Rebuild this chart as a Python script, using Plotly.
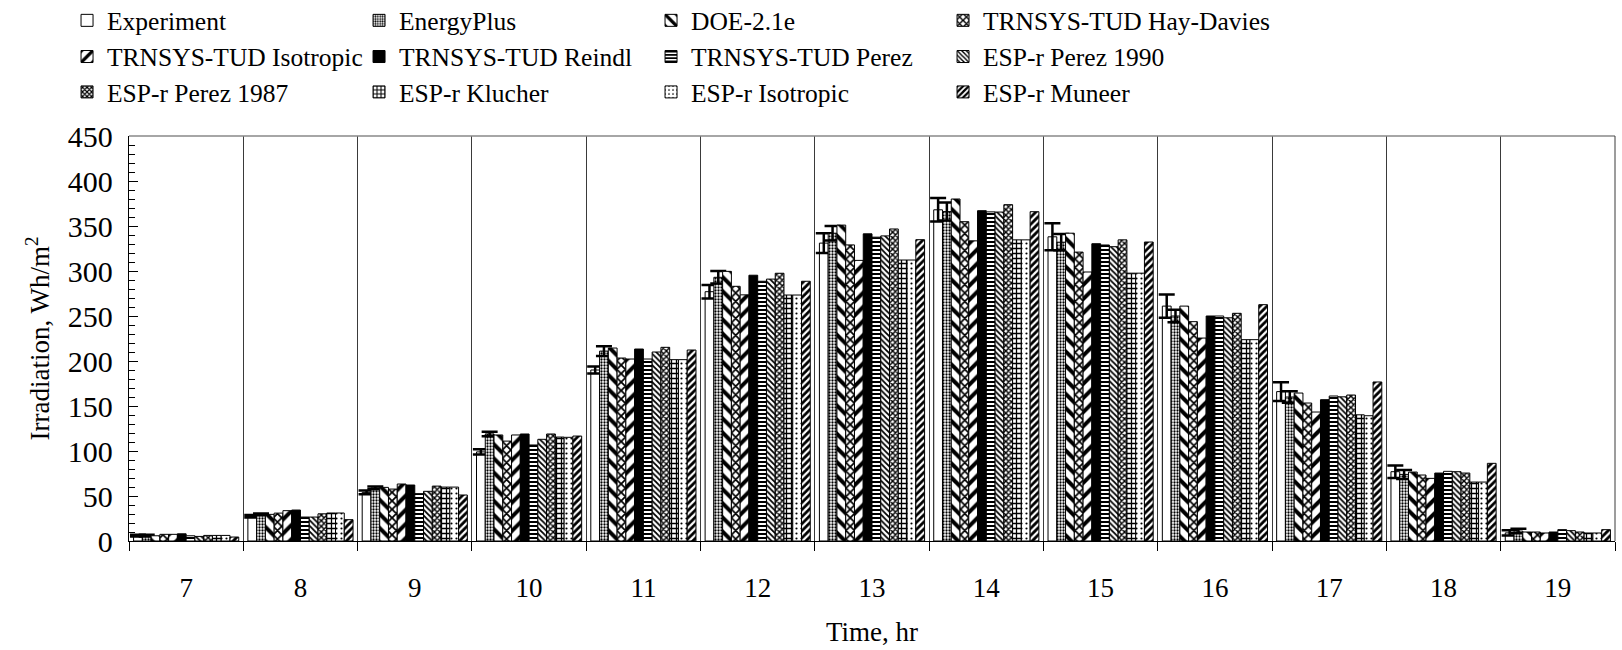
import plotly.graph_objects as go

hours = ["7", "8", "9", "10", "11", "12", "13", "14", "15", "16", "17", "18", "19"]

experiment = [6, 27.5, 54, 99, 190, 277, 331, 368, 338, 261, 166, 77, 9]
experiment_err = [1, 1.5, 2, 3, 4, 7.5, 11, 13, 15, 13, 10.5, 7, 3]
energyplus = [6, 29.5, 59, 119, 211, 293, 342, 366, 332, 250, 160, 74, 11]
energyplus_err = [1, 1, 1.5, 2.5, 5.5, 7, 8, 10, 9, 7, 6.5, 5, 2.5]
doe21e = [5.8, 29.6, 59.6, 117.8, 214.4, 299.6, 351, 380, 342, 261, 164.4, 76.6, 10]
trnsys_hay_davies = [7.4, 31, 57.7, 111, 203.3, 283, 329, 354.8, 321, 243.7, 153.3, 73.3, 10]
trnsys_isotropic = [7.4, 33.7, 63.3, 117.8, 202.2, 273.5, 311.8, 333.5, 298.9, 225.5, 143.3, 69.6, 8.9]
trnsys_reindl = [8, 34.4, 62.2, 118.9, 213.3, 295.3, 341.3, 367, 330.3, 250, 157, 75.5, 10]
trnsys_perez = [5.8, 26.6, 52.6, 106.7, 202.2, 288.6, 337.6, 365.7, 328.9, 250, 161.1, 77.4, 12.6]
espr_perez_1990 = [5.1, 26.6, 55.2, 113, 210, 291, 339, 365.5, 327, 248, 160.2, 77, 11.5]
espr_perez_1987 = [6.2, 30.2, 61, 118.9, 215.2, 297.5, 346.7, 373.7, 334.6, 253, 162.2, 75.5, 10]
espr_klucher = [6.2, 31.1, 59.9, 115.5, 201.5, 273.3, 312.2, 334.6, 297.6, 223.7, 140.2, 65.5, 8.9]
espr_isotropic = [6.2, 31.1, 59.9, 115.2, 201.5, 273.3, 312.2, 334.6, 297.6, 223.7, 139.2, 65.5, 8.9]
espr_muneer = [4.4, 23.7, 51.1, 116.6, 212.2, 288.6, 334.8, 365.9, 332.2, 262.6, 176.7, 86.3, 12.6]

FONT = "Liberation Serif, Times New Roman, serif"

# (name, values, errors, fill pattern, solid color, legend row)
series = [
    ("Experiment", experiment, experiment_err, None, "white", "legend"),
    ("EnergyPlus", energyplus, energyplus_err, dict(shape=".", size=3, solidity=0.45), None, "legend"),
    ("DOE-2.1e", doe21e, None, dict(shape="\\", size=10, solidity=0.4), None, "legend"),
    ("TRNSYS-TUD Hay-Davies", trnsys_hay_davies, None, dict(shape="x", size=6, solidity=0.5), None, "legend"),
    ("TRNSYS-TUD Isotropic", trnsys_isotropic, None, dict(shape="/", size=10, solidity=0.4), None, "legend2"),
    ("TRNSYS-TUD Reindl", trnsys_reindl, None, None, "black", "legend2"),
    ("TRNSYS-TUD Perez", trnsys_perez, None, dict(shape="-", size=4, solidity=0.5), None, "legend2"),
    ("ESP-r Perez 1990", espr_perez_1990, None, dict(shape="\\", size=4, solidity=0.45), None, "legend2"),
    ("ESP-r Perez 1987", espr_perez_1987, None, dict(shape="x", size=4, solidity=0.6), None, "legend3"),
    ("ESP-r Klucher", espr_klucher, None, dict(shape="+", size=5, solidity=0.45), None, "legend3"),
    ("ESP-r Isotropic", espr_isotropic, None, dict(shape=".", size=5, solidity=0.15), None, "legend3"),
    ("ESP-r Muneer", espr_muneer, None, dict(shape="/", size=5, solidity=0.55), None, "legend3"),
]

COL_W = 247  # text slot of each legend column, px

fig = go.Figure()
for i, (name, vals, errs, pattern, solid, leg) in enumerate(series):
    marker = dict(line=dict(color="black", width=1))
    if pattern is not None:
        marker["color"] = "white"
        marker["pattern"] = dict(fgcolor="black", bgcolor="white", fillmode="replace", **pattern)
    else:
        marker["color"] = solid
    kw = {}
    if errs is not None:
        kw["error_y"] = dict(type="data", array=errs, visible=True, color="black", thickness=2.5, width=8)
    # last column of each legend row gets room for its full label
    kw["legendwidth"] = 340 if i % 4 == 3 else COL_W
    fig.add_trace(go.Bar(x=hours, y=vals, name=name, marker=marker, legend=leg, **kw))

legend_common = dict(
    orientation="h", xanchor="left", yanchor="middle", x=-0.0417,
    entrywidth=COL_W, entrywidthmode="pixels", bgcolor="rgba(0,0,0,0)",
    font=dict(family=FONT, size=25.5, color="black"), traceorder="normal",
)

fig.update_layout(
    width=1622, height=650,
    margin=dict(l=129, r=7, t=136, b=109, autoexpand=False),
    paper_bgcolor="white", plot_bgcolor="white",
    font=dict(family=FONT, size=27, color="black"),
    barmode="group", bargap=0.08, bargroupgap=0,
    legend=dict(y=1.2845, **legend_common),
    legend2=dict(y=1.1952, **legend_common),
    legend3=dict(y=1.1078, **legend_common),
    xaxis=dict(
        type="category", tickson="boundaries", showgrid=True, gridcolor="#3a3a3a", gridwidth=1,
        ticks="outside", ticklen=9, tickcolor="black", showline=True, linecolor="black", linewidth=1.3,
        ticklabelstandoff=22, tickfont=dict(size=27),
        title=dict(text="Time, hr", standoff=20, font=dict(size=27)),
    ),
    yaxis=dict(
        range=[0, 450], dtick=50, tick0=0, ticks="inside", ticklen=9, tickcolor="black",
        minor=dict(dtick=10, ticks="inside", ticklen=6, tickcolor="black"),
        showgrid=False, zeroline=False, showline=True, linecolor="black", linewidth=1.3,
        ticklabelstandoff=9, tickfont=dict(size=30),
        title=dict(text="Irradiation, Wh/m<sup>2</sup>", standoff=10, font=dict(size=27)),
    ),
    shapes=[
        dict(type="line", xref="paper", yref="paper", x0=0, x1=1, y0=1, y1=1,
             line=dict(color="#888888", width=1.5)),
        dict(type="line", xref="paper", yref="paper", x0=1, x1=1, y0=0, y1=1,
             line=dict(color="#3a3a3a", width=1)),
    ],
)

fig.write_html("out.html")
